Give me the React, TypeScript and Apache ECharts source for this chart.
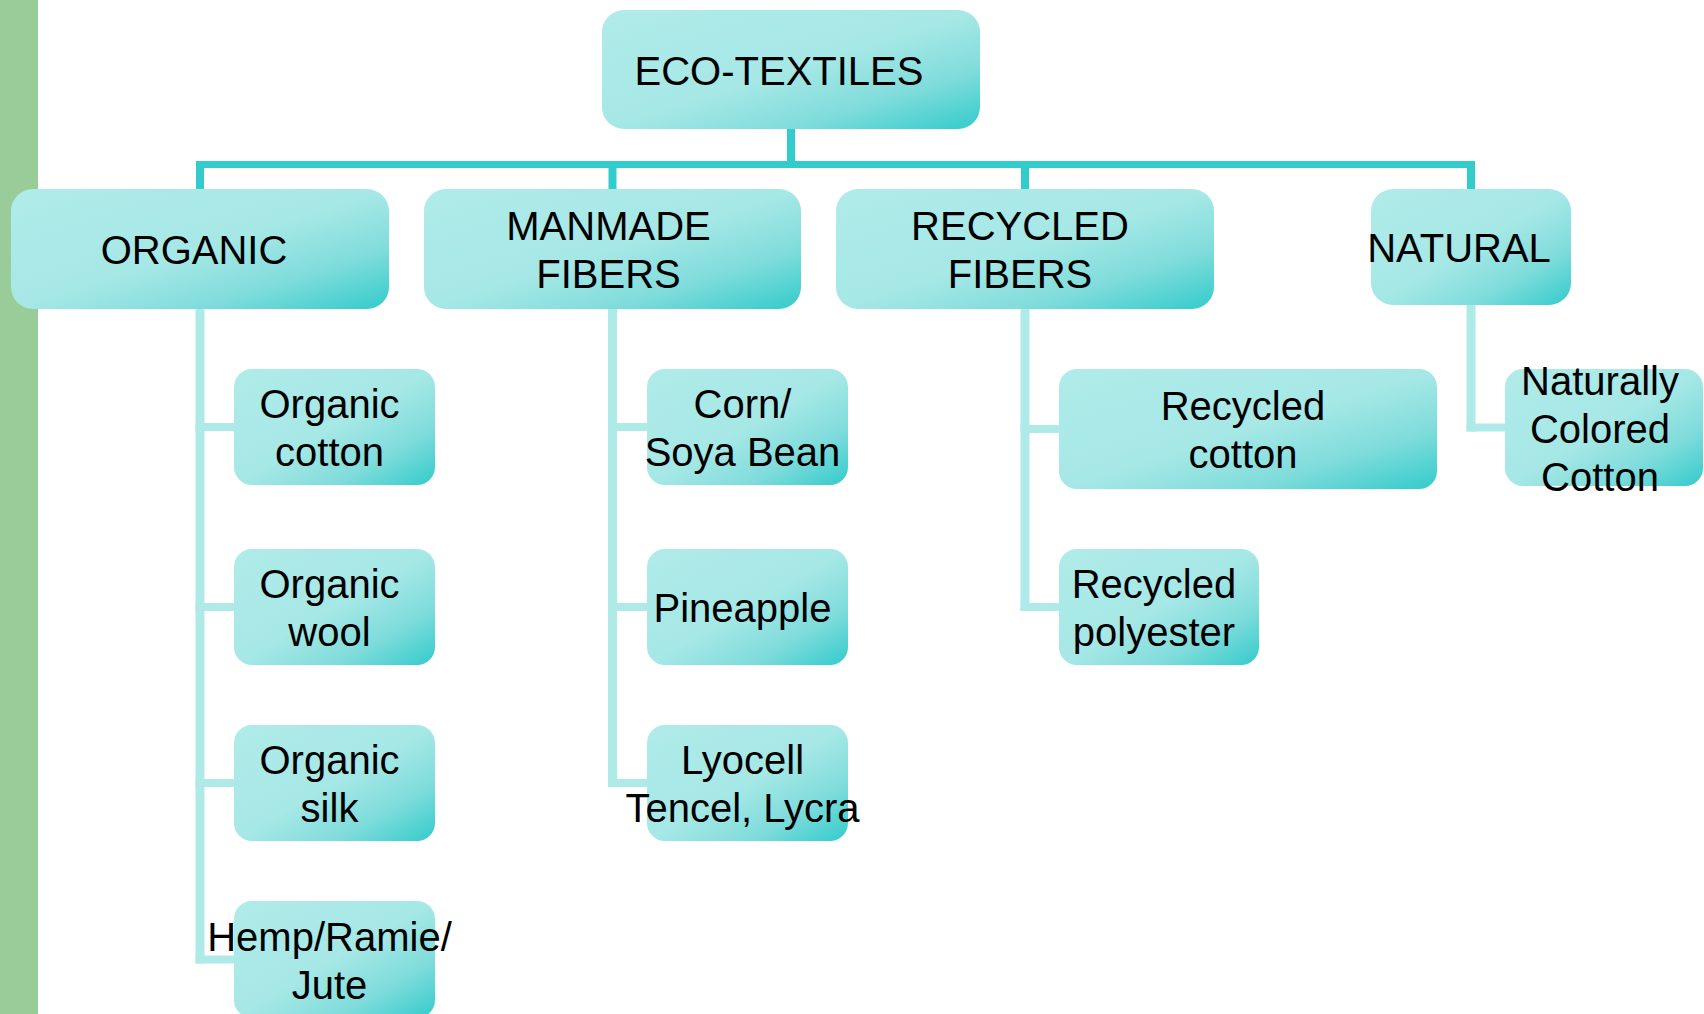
import React, { useEffect, useRef } from "react";
import * as echarts from "echarts";

// ---- Data (tree content) ----
const rootLabel = "ECO-TEXTILES";
const categories = ["ORGANIC", "MANMADE\nFIBERS", "RECYCLED\nFIBERS", "NATURAL"];
const organicItems = ["Organic\ncotton", "Organic\nwool", "Organic\nsilk", "Hemp/Ramie/\nJute"];
const manmadeItems = ["Corn/\nSoya Bean", "Pineapple", "Lyocell\nTencel, Lycra"];
const recycledItems = ["Recycled\ncotton", "Recycled\npolyester"];
const naturalItems = ["Naturally\nColored\nCotton"];
const childrenByCategory = [organicItems, manmadeItems, recycledItems, naturalItems];

// ---- Layout (page pixel space, 1704 x 1014) ----
const W = 1704;
const H = 1014;
const rootBox = [602, 10, 980, 129];
const rootLabelDx = -12;
const categoryBoxes = [
  [11, 189, 389, 309],
  [424, 189, 801, 309],
  [836, 189, 1214, 309],
  [1371, 189, 1571, 305],
];
const categoryLabelDx = [-6, -4, -5, -12];
const rowTops = [369, 549, 725, 901];
const childColumns = [
  [[234, 435]],
  [[647, 848]],
  [[1059, 1437], [1059, 1259]],
  [[1505, 1703]],
];
const childHeights = [[116, 116, 116, 117], [116, 116, 116], [120, 116], [117]];
const childLabelDx = [-5, -5, -5, -4];
const busY = 164.5;

type Box = { x1: number; y1: number; x2: number; y2: number; label: string; r: number; dx: number };
type Seg = { x1: number; y1: number; x2: number; y2: number; w: number; color: string };

const DARK = "#33CCCC";
const LIGHT_LINE = "#AEEAE8";

function buildBoxes(): Box[] {
  const boxes: Box[] = [];
  boxes.push({ x1: rootBox[0], y1: rootBox[1], x2: rootBox[2], y2: rootBox[3], label: rootLabel, r: 22, dx: rootLabelDx });
  categories.forEach((c, i) => {
    const b = categoryBoxes[i];
    boxes.push({ x1: b[0], y1: b[1], x2: b[2], y2: b[3], label: c, r: 22, dx: categoryLabelDx[i] });
    childrenByCategory[i].forEach((lab, j) => {
      const cols = childColumns[i];
      const col = cols[Math.min(j, cols.length - 1)];
      const top = rowTops[j];
      boxes.push({ x1: col[0], y1: top, x2: col[1], y2: top + childHeights[i][j], label: lab, r: 18, dx: childLabelDx[i] });
    });
  });
  return boxes;
}

function buildSegments(): Seg[] {
  const segs: Seg[] = [];
  const rootCx = (rootBox[0] + rootBox[2]) / 2;
  const cxs = categoryBoxes.map((b) => (b[0] + b[2]) / 2);
  segs.push({ x1: rootCx, y1: rootBox[3], x2: rootCx, y2: busY, w: 8, color: DARK });
  segs.push({ x1: cxs[0] - 4, y1: busY, x2: cxs[cxs.length - 1] + 4, y2: busY, w: 7, color: DARK });
  categories.forEach((_, i) => {
    const b = categoryBoxes[i];
    const cx = cxs[i];
    segs.push({ x1: cx, y1: busY, x2: cx, y2: b[1], w: 8, color: DARK });
    const kids = childrenByCategory[i];
    let lastMid = b[3];
    kids.forEach((_, j) => {
      const cols = childColumns[i];
      const col = cols[Math.min(j, cols.length - 1)];
      const top = rowTops[j];
      const mid = top + childHeights[i][j] / 2;
      lastMid = mid;
      segs.push({ x1: cx - 4.5, y1: mid, x2: col[0], y2: mid, w: 8, color: LIGHT_LINE });
    });
    segs.push({ x1: cx, y1: b[3], x2: cx, y2: lastMid + 4, w: 9, color: LIGHT_LINE });
  });
  return segs;
}

const boxes = buildBoxes();
const segments = buildSegments();

export default function App() {
  const ref = useRef<HTMLDivElement>(null);

  useEffect(() => {
    if (!ref.current) return;
    const chart = echarts.init(ref.current, undefined, { renderer: "svg" });

    const gradient = () =>
      new echarts.graphic.LinearGradient(0, 0, 1, 1, [
        { offset: 0, color: "#AFEBE9" },
        { offset: 0.5, color: "#A6E8E6" },
        { offset: 0.75, color: "#7FDCDB" },
        { offset: 1, color: "#33CBCB" },
      ]);

    chart.setOption({
      animation: false,
      backgroundColor: "#FFFFFF",
      grid: { left: 0, right: 0, top: 0, bottom: 0 },
      xAxis: { type: "value", min: 0, max: W, show: false },
      yAxis: { type: "value", min: 0, max: H, inverse: true, show: false },
      graphic: [
        {
          type: "rect",
          shape: { x: 0, y: 0, width: 38, height: H },
          style: { fill: "#99CC99" },
          z: 0,
          zlevel: 0,
        },
      ],
      series: [
        {
          type: "custom",
          clip: false,
          z: 1,
          data: segments.map((s) => [s.x1, s.y1, s.x2, s.y2]),
          renderItem: (params: any, api: any) => {
            const s = segments[params.dataIndex];
            const p1 = api.coord([s.x1, s.y1]);
            const p2 = api.coord([s.x2, s.y2]);
            const horizontal = Math.abs(p2[1] - p1[1]) < 0.5;
            const x = horizontal ? Math.min(p1[0], p2[0]) : p1[0] - s.w / 2;
            const y = horizontal ? p1[1] - s.w / 2 : Math.min(p1[1], p2[1]);
            const w = horizontal ? Math.abs(p2[0] - p1[0]) : s.w;
            const h = horizontal ? s.w : Math.abs(p2[1] - p1[1]);
            return {
              type: "rect",
              shape: { x, y, width: w, height: h },
              style: { fill: s.color },
            };
          },
        },
        {
          type: "custom",
          clip: false,
          z: 2,
          data: boxes.map((b) => [b.x1, b.y1, b.x2, b.y2]),
          renderItem: (params: any, api: any) => {
            const b = boxes[params.dataIndex];
            const p1 = api.coord([b.x1, b.y1]);
            const p2 = api.coord([b.x2, b.y2]);
            return {
              type: "group",
              children: [
                {
                  type: "rect",
                  shape: {
                    x: p1[0],
                    y: p1[1],
                    width: p2[0] - p1[0],
                    height: p2[1] - p1[1],
                    r: b.r,
                  },
                  style: { fill: gradient() },
                },
                {
                  type: "text",
                  z2: 10,
                  style: {
                    text: b.label,
                    x: (p1[0] + p2[0]) / 2 + b.dx,
                    y: (p1[1] + p2[1]) / 2 + 1,
                    align: "center",
                    verticalAlign: "middle",
                    fontSize: 40,
                    fontFamily: "Liberation Sans, Arial, sans-serif",
                    lineHeight: 48,
                    fill: "#000000",
                  },
                },
              ],
            };
          },
        },
      ],
    });

    return () => chart.dispose();
  }, []);

  return (
    <div
      ref={ref}
      style={{ position: "fixed", left: 0, top: 0, width: W, height: H, background: "#fff" }}
    />
  );
}
